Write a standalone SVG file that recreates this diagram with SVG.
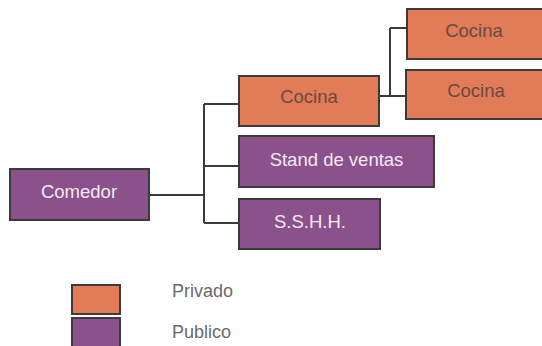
<svg xmlns="http://www.w3.org/2000/svg" width="542" height="346" viewBox="0 0 542 346">
<style>
.box{stroke:#3d3a3c;stroke-width:2}
.priv{fill:#e27b58}
.pub{fill:#8b518b}
.lbl{font-family:"Liberation Sans",Arial,sans-serif;font-size:18.5px;text-anchor:middle}
.tpriv{fill:#6a4a3e}
.tpub{fill:#f4eaf4}
.leg{font-family:"Liberation Sans",Arial,sans-serif;font-size:18px;fill:#6a6a6a}
.con{fill:none;stroke:#3d3a3c;stroke-width:2}
</style>
<rect width="542" height="346" fill="#ffffff"/>
<g id="connectors">
<path class="con" d="M149 195 H204 M204 104 V223 M204 104 H239 M204 166 H239 M204 223 H239"/>
<path class="con" d="M379 96 H406 M390 28 V96 M390 28 H407"/>
</g>
<g id="comedor">
<rect class="box pub" x="10" y="169" width="139" height="51"/>
<text class="lbl tpub" x="79" y="198">Comedor</text>
</g>
<g id="cocina">
<rect class="box priv" x="239" y="76" width="140" height="50"/>
<text class="lbl tpriv" x="309" y="103">Cocina</text>
</g>
<g id="stand">
<rect class="box pub" x="239" y="136" width="195" height="51"/>
<text class="lbl tpub" x="336.5" y="166">Stand de ventas</text>
</g>
<g id="sshh">
<rect class="box pub" x="239" y="199" width="141" height="50"/>
<text class="lbl tpub" x="310" y="228">S.S.H.H.</text>
</g>
<g id="cocina2">
<rect class="box priv" x="407" y="9" width="140" height="50"/>
<text class="lbl tpriv" x="474" y="37">Cocina</text>
</g>
<g id="cocina3">
<rect class="box priv" x="406" y="70" width="141" height="49"/>
<text class="lbl tpriv" x="476" y="97">Cocina</text>
</g>
<g id="legend">
<rect class="box priv" x="72" y="285" width="48" height="29"/>
<rect class="box pub" x="72" y="318" width="48" height="32"/>
<text class="leg" x="172" y="297">Privado</text>
<text class="leg" x="172" y="338">Publico</text>
</g>
</svg>
